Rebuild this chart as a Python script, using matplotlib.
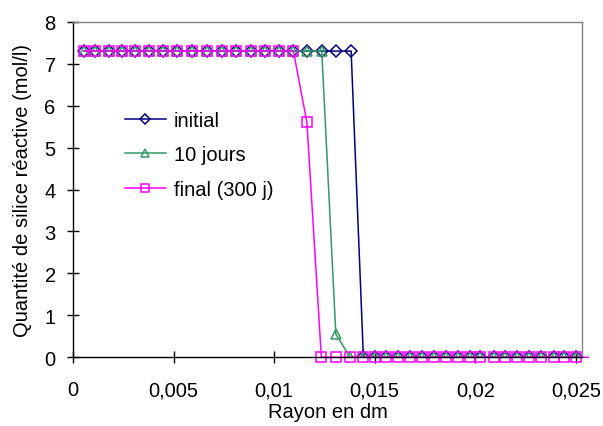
import matplotlib
matplotlib.use("Agg")
import matplotlib.pyplot as plt
from matplotlib.ticker import FuncFormatter

# values (rayon en dm, silice en mol/l)
x_top = [0.00055, 0.0011, 0.0018, 0.00244, 0.00309, 0.0038, 0.00449, 0.00519,
         0.0059, 0.00665, 0.0074, 0.00811, 0.00884, 0.00955, 0.01025, 0.01096]
x_bottom = [0.01444, 0.0150, 0.01555, 0.01614, 0.01674, 0.01736, 0.01794, 0.01855,
            0.01913, 0.01972, 0.02025, 0.02091, 0.02147, 0.02208, 0.02266, 0.02327,
            0.0239, 0.02443, 0.025]

x_initial = x_top + [0.01166, 0.01237, 0.01309, 0.01383] + x_bottom
y_initial = [7.3] * 20 + [0] * len(x_bottom)

x_10j = x_top + [0.01166, 0.01237, 0.01307, 0.01378] + x_bottom
y_10j = [7.3] * 18 + [0.55, 0] + [0] * len(x_bottom)

x_final = x_top + [0.01163, 0.01235, 0.01307, 0.01378] + x_bottom + [0.02562]
y_final = [7.3] * 16 + [5.6, 0, 0, 0] + [0] * len(x_bottom) + [0]

labels = ["initial", "10 jours", "final (300 j)"]

plt.rcParams["font.family"] = ["Liberation Sans", "DejaVu Sans"]
fs = 14.5

fig = plt.figure(figsize=(6.03, 4.27), dpi=100)
ax = fig.add_axes([73 / 603, 1 - 358.3 / 427, (582 - 73) / 603, (358.3 - 22.7) / 427])

ax.plot(x_initial, y_initial, color="#000080", lw=1.1, marker="D", ms=6.5,
        mfc="none", mew=1.1, label=labels[0])
ax.plot(x_10j, y_10j, color="#339966", lw=1.1, marker="^", ms=7,
        mfc="none", mew=1.1, label=labels[1])
ax.plot(x_final, y_final, color="#FF00FF", lw=1.1, marker="s", ms=7.5,
        mfc="none", mew=1.1, label=labels[2], clip_on=False,
        markevery=list(range(len(x_final) - 1)))

ax.set_xlim(0, 0.02531)
ax.set_ylim(0, 8)
ax.set_xticks([0, 0.005, 0.01, 0.015, 0.02, 0.025])
ax.set_yticks(range(0, 9))
ax.xaxis.set_major_formatter(FuncFormatter(lambda v, p: ("%g" % round(v, 4)).replace(".", ",")))

for side in ["top", "right"]:
    ax.spines[side].set_color("#808080")
    ax.spines[side].set_linewidth(1)
for side in ["left", "bottom"]:
    ax.spines[side].set_color("black")
    ax.spines[side].set_linewidth(1)

ax.tick_params(direction="inout", length=9, width=1, labelsize=fs)
ax.tick_params(axis="x", pad=12)
ax.tick_params(axis="y", pad=8)

ax.set_xlabel("Rayon en dm", fontsize=fs, labelpad=2)
ax.set_ylabel("Quantité de silice réactive (mol/l)", fontsize=fs, labelpad=9)

ax.legend(loc="upper left", bbox_to_anchor=(0.083, 0.765), frameon=False,
          fontsize=fs, handlelength=2.0, handletextpad=0.4, labelspacing=0.78,
          borderpad=0, markerscale=0.85)

fig.savefig("out.png", dpi=100)
